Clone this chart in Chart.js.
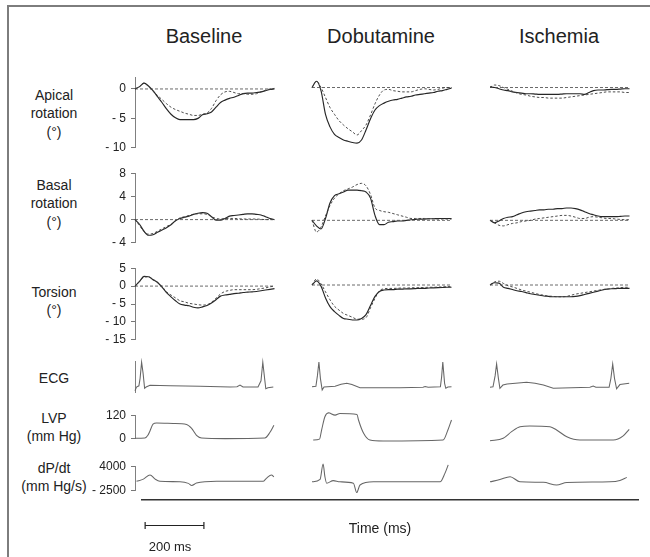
<!DOCTYPE html>
<html>
<head>
<meta charset="utf-8">
<script src="https://cdn.jsdelivr.net/npm/chart.js@4"></script>
<style>
  body { margin: 0; width: 650px; height: 557px; overflow: hidden; background: #fff; position: relative;
         font-family: "Liberation Sans", Arial, sans-serif; color: #222; }
  #frame { position: absolute; left: 7px; top: 5px; width: 700px; height: 600px; border: 2px solid #7d7d7d; }
  .txt { position: absolute; white-space: nowrap; }
  .title { font-size: 20px; width: 180px; text-align: center; }
  .rowlab { font-size: 14px; left: 0; width: 108px; text-align: center; line-height: 18.5px; }
  canvas { position: absolute; }
</style>
</head>
<body>
<div id="frame"></div>
<script>
// column and row names
const columns = ['Baseline', 'Dobutamine', 'Ischemia'];
const rowLabels = [['Apical', 'rotation', '(°)'], ['Basal', 'rotation', '(°)'], ['Torsion', '(°)'],
                   ['ECG'], ['LVP', '(mm Hg)'], ['dP/dt', '(mm Hg/s)']];

// tick labels of the left axes
const apicalTicks = [0, -5, -10];
const basalTicks = [8, 4, 0, -4];
const torsionTicks = [5, 0, -5, -10, -15];
const lvpTicks = [120, 0];
const dpdtTicks = [4000, -2500];
const scaleBarMs = 200;

// time (ms) of the rotation samples
const timeRot = [0, 15, 30, 45, 60, 75, 90, 105, 120, 135, 150, 165, 180, 195, 210, 225,
                 240, 255, 270, 285, 300, 315, 330, 345, 360, 375, 390, 405, 420, 435, 450, 465];

// apical rotation (deg), solid and dashed traces
const apicalBaseSolid = [0, 0.4, 1.0, 0.5, -0.3, -1.3, -2.3, -3.4, -4.3, -4.9, -5.2, -5.2, -5.2, -5.2, -5.0, -4.4,
                         -4.2, -3.9, -3.1, -2.3, -1.9, -1.6, -1.4, -1.1, -0.8, -0.7, -0.7, -0.6, -0.5, -0.3, -0.1, 0];
const apicalBaseDashed = [0, 0.4, 1.0, 0.4, -0.4, -1.1, -1.8, -2.5, -3.1, -3.5, -3.8, -4.1, -4.3, -4.5, -4.5, -4.3,
                          -4.1, -3.3, -2.0, -1.0, -0.5, -0.4, -0.6, -0.8, -0.8, -0.9, -0.9, -0.8, -0.5, -0.2, 0, 0.1];
const apicalDobSolid = [0, 1.0, -0.5, -4.3, -6.3, -7.5, -8.0, -8.4, -8.6, -8.8, -8.9, -8.4, -6.8, -5.0, -3.6, -2.9,
                        -2.5, -2.2, -2.0, -1.9, -1.7, -1.5, -1.4, -1.2, -1.1, -1.0, -0.9, -0.8, -0.6, -0.5, -0.3, -0.1];
const apicalDobDashed = [0, 1.0, 0, -1.6, -3.2, -4.3, -5.3, -6.0, -6.6, -7.1, -7.6, -6.9, -6.0, -4.4, -2.6, -1.2,
                         -0.4, -0.3, -0.5, -0.6, -0.7, -0.7, -0.7, -0.5, -0.3, -0.2, -0.3, -0.4, -0.3, -0.1, 0, 0];
const apicalIschSolid = [0.1, 0, -0.2, -0.4, -0.5, -0.7, -0.8, -0.9, -1.0, -1.0, -1.05, -1.1, -1.1, -1.1, -1.1, -1.1,
                         -1.05, -1.0, -1.0, -1.0, -1.0, -1.1, -0.8, -0.5, -0.4, -0.4, -0.35, -0.3, -0.3, -0.25, -0.2, -0.2];
const apicalIschDashed = [0, 0.4, 0.3, 0, -0.3, -0.6, -0.9, -1.1, -1.2, -1.4, -1.5, -1.6, -1.6, -1.7, -1.7, -1.7,
                          -1.7, -1.6, -1.5, -1.4, -1.3, -1.2, -1.1, -1.0, -0.9, -0.8, -0.7, -0.7, -0.7, -0.7, -0.8, -0.8];

// basal rotation (deg)
const basalBaseSolid = [0, -0.8, -2.0, -2.7, -2.6, -2.2, -1.8, -1.4, -0.9, -0.2, 0.2, 0.4, 0.6, 0.9, 1.1, 1.2,
                        1.1, 0.5, -0.1, -0.1, 0.2, 0.6, 0.7, 0.8, 0.9, 1.0, 1.0, 0.9, 0.8, 0.5, 0.2, 0];
const basalBaseDashed = [0, -1.0, -2.1, -2.5, -2.4, -2.0, -1.6, -1.2, -0.8, -0.2, 0.3, 0.5, 0.7, 0.9, 1.0, 1.0,
                         0.9, 0.5, 0.2, 0.1, 0.2, 0.2, 0.2, 0.15, 0.1, 0.1, 0.1, 0.1, 0.05, 0, 0, 0];
const basalDobSolid = [0, -0.9, -1.4, 0.3, 2.8, 4.0, 4.3, 4.6, 4.9, 4.9, 4.9, 4.8, 4.6, 3.6, 0.8, -0.7,
                       -0.7, -0.3, -0.2, -0.1, -0.1, 0, 0.1, 0.15, 0.2, 0.2, 0.25, 0.25, 0.3, 0.3, 0.3, 0.3];
const basalDobDashed = [0, -1.9, -1.1, 0.7, 2.4, 3.6, 4.3, 4.8, 5.1, 5.4, 5.8, 6.0, 5.6, 4.2, 2.0, 1.6,
                        1.4, 1.3, 1.1, 0.9, 0.7, 0.5, 0.3, 0.3, 0.3, 0.3, 0.25, 0.25, 0.2, 0.2, 0.2, 0.2];
const basalIschSolid = [0, -0.4, -0.1, 0.3, 0.5, 0.6, 0.9, 1.2, 1.4, 1.5, 1.6, 1.7, 1.7, 1.8, 1.8, 1.9,
                        1.9, 2.0, 2.0, 1.9, 1.7, 1.4, 1.1, 0.9, 0.7, 0.6, 0.6, 0.6, 0.6, 0.65, 0.7, 0.7];
const basalIschDashed = [0, -0.4, -0.8, -0.9, -0.7, -0.5, -0.4, -0.2, -0.1, 0, 0.2, 0.3, 0.4, 0.5, 0.6, 0.7,
                         0.8, 0.8, 0.7, 0.5, 0.3, 0.3, 0.5, 0.6, 0.5, 0.4, 0.3, 0.3, 0.2, 0.15, 0.1, 0.1];

// torsion (deg)
const torsionBaseSolid = [0, 1.3, 2.7, 2.6, 1.8, 1.0, -0.3, -1.8, -3.0, -4.1, -5.0, -5.3, -5.5, -5.9, -6.1, -5.8,
                          -5.4, -4.7, -3.8, -2.8, -2.5, -2.3, -2.1, -2.0, -1.8, -1.7, -1.6, -1.5, -1.3, -1.1, -0.9, -0.7];
const torsionBaseDashed = [0, 1.2, 2.5, 2.6, 1.9, 1.1, -0.1, -1.6, -2.5, -3.3, -4.1, -4.4, -4.8, -5.0, -5.2, -5.3,
                           -5.2, -4.5, -3.4, -2.2, -1.5, -1.2, -1.0, -1.0, -1.0, -1.0, -1.0, -0.9, -0.7, -0.5, -0.2, 0];
const torsionDobSolid = [0, 1.1, -0.3, -3.4, -5.7, -7.0, -8.0, -8.8, -9.0, -9.2, -9.2, -8.8, -7.8, -5.4, -3.0, -1.7,
                         -1.3, -1.2, -1.2, -1.1, -1.1, -1.0, -1.0, -0.95, -0.9, -0.9, -0.8, -0.75, -0.7, -0.65, -0.6, -0.6];
const torsionDobDashed = [0, 1.6, 0.3, -1.8, -3.9, -5.6, -6.6, -7.5, -8.0, -8.5, -9.0, -9.0, -8.6, -6.0, -3.5, -1.5,
                          -1.0, -0.9, -0.9, -0.85, -0.8, -0.8, -0.75, -0.7, -0.7, -0.65, -0.6, -0.6, -0.55, -0.5, -0.45, -0.4];
const torsionIschSolid = [0, 0.6, 0.5, -0.6, -0.9, -1.2, -1.5, -1.7, -2.0, -2.3, -2.5, -2.7, -2.9, -3.0, -3.1, -3.1,
                          -3.1, -3.1, -3.1, -3.0, -2.8, -2.5, -2.2, -1.9, -1.6, -1.3, -1.1, -1.0, -0.95, -0.9, -0.9, -0.9];
const torsionIschDashed = [0, 0.8, 1.0, 0.4, -0.2, -0.5, -0.9, -1.3, -1.6, -1.9, -2.2, -2.5, -2.7, -2.9, -3.0, -3.1,
                           -3.1, -3.0, -2.7, -2.4, -2.2, -2.0, -1.8, -1.6, -1.4, -1.2, -1.1, -0.9, -0.8, -0.7, -0.6, -0.6];

// ECG (mV): sample times (ms) and values
const ecgBaseT = [0, 5, 13, 17, 22, 27, 32, 37, 50, 117, 217, 317, 340, 350, 360, 410, 420, 426, 432, 436, 443, 461];
const ecgBaseV = [-0.2, -0.05, 0, 0.3, 0.95, 0.5, -0.1, -0.05, 0.02, 0, -0.02, -0.05, -0.04, 0.03, -0.05, -0.05, 0.2, 0.95, 0.3, -0.12, -0.08, -0.05];
const ecgDobT = [0, 13, 18, 23, 28, 34, 40, 77, 97, 116, 133, 160, 293, 370, 377, 387, 428, 432, 436, 442, 446, 453, 465];
const ecgDobV = [-0.04, -0.02, 0.4, 0.96, 0.3, -0.17, -0.05, -0.02, 0.06, 0.1, 0.05, -0.08, -0.08, -0.06, -0.03, -0.06, -0.04, 0.35, 0.96, 0.1, -0.1, -0.05, -0.04];
const ecgIschT = [0, 10, 17, 22, 28, 33, 43, 57, 122, 150, 178, 211, 333, 344, 353, 397, 403, 409, 415, 422, 433, 464];
const ecgIschV = [-0.06, -0.04, 0.4, 0.88, 0.3, -0.1, 0.03, 0.07, 0.14, 0.1, 0.03, -0.1, -0.06, -0.01, -0.06, -0.06, 0.3, 0.88, 0.3, -0.12, 0.05, 0.1];

// LV pressure (mm Hg)
const lvpBaseT = [0, 33, 43, 50, 60, 72, 127, 172, 188, 205, 222, 300, 433, 450, 463];
const lvpBaseV = [3, 4, 18, 40, 74, 80, 78, 73, 54, 18, 4, 1, 4, 33, 69];
const lvpDobT = [4, 25, 32, 43, 55, 77, 93, 150, 155, 172, 193, 237, 437, 453, 465];
const lvpDobV = [4, 8, 47, 104, 121, 111, 118, 114, 90, 33, 4, 0, 4, 47, 90];
const lvpIschT = [0, 44, 72, 100, 133, 200, 222, 256, 300, 411, 444, 464];
const lvpIschV = [1, 12, 40, 61, 64, 61, 47, 18, 4, 4, 22, 50];

// dP/dt (mm Hg/s)
const dpdtBaseT = [5, 28, 50, 67, 83, 150, 178, 189, 205, 272, 427, 438, 455, 463];
const dpdtBaseV = [0, 580, 1700, 580, 0, -100, -540, -1100, -470, 0, 0, 800, 1700, 1200];
const dpdtDobT = [0, 27, 37, 43, 49, 71, 93, 138, 149, 160, 205, 427, 443, 454];
const dpdtDobV = [0, 580, 4000, 1160, -300, 270, 0, -300, -2400, -700, 0, 0, 1900, 3800];
const dpdtIschT = [0, 33, 67, 100, 178, 222, 256, 400, 433, 456];
const dpdtIschV = [0, 500, 1160, 0, -100, -700, -150, 0, 300, 1000];

Chart.defaults.font.family = '"Liberation Sans", Arial, sans-serif';

// layout
const colLeft = [135, 312, 490];
const plotW = 140;
const msPerPx = 200 / 60;
const xMax = plotW * msPerPx;
const axisW = 75;
const padV = 10, padH = 4;

const rows = [
  { top: 75, bottom: 150, min: -10, max: 2, ticks: apicalTicks, zero: true, kind: 'rot',
    sets: [[apicalBaseSolid, apicalBaseDashed], [apicalDobSolid, apicalDobDashed], [apicalIschSolid, apicalIschDashed]] },
  { top: 171, bottom: 245, min: -4, max: 8, ticks: basalTicks, zero: true, kind: 'rot',
    sets: [[basalBaseSolid, basalBaseDashed], [basalDobSolid, basalDobDashed], [basalIschSolid, basalIschDashed]] },
  { top: 266, bottom: 342, min: -15, max: 5, ticks: torsionTicks, zero: true, kind: 'rot',
    sets: [[torsionBaseSolid, torsionBaseDashed], [torsionDobSolid, torsionDobDashed], [torsionIschSolid, torsionIschDashed]] },
  { top: 361, bottom: 392, min: -0.25, max: 1, ticks: null, kind: 'sig', tension: 0,
    sets: [[ecgBaseT, ecgBaseV], [ecgDobT, ecgDobV], [ecgIschT, ecgIschV]] },
  { top: 413, bottom: 441, min: 0, max: 120, ticks: lvpTicks, kind: 'sig',
    sets: [[lvpBaseT, lvpBaseV], [lvpDobT, lvpDobV], [lvpIschT, lvpIschV]] },
  { top: 464, bottom: 493, min: -2500, max: 4000, ticks: dpdtTicks, kind: 'sig',
    sets: [[dpdtBaseT, dpdtBaseV], [dpdtDobT, dpdtDobV], [dpdtIschT, dpdtIschV]] }
];
const labelTops = [85.7, 175.7, 282.7, 368.7, 408.7, 458.7];

const xy = (ts, vs) => ts.map((t, i) => ({ x: t, y: vs[i] }));
const fmt = v => v < 0 ? '- ' + (-v) : String(v);

function addText(cls, text, left, top) {
  const d = document.createElement('div');
  d.className = 'txt ' + cls;
  d.innerHTML = text;
  d.style.left = left + 'px';
  d.style.top = top + 'px';
  document.body.appendChild(d);
  return d;
}

columns.forEach((name, c) => addText('title', name, colLeft[c] + plotW / 2 - 91, 25));
rowLabels.forEach((lines, r) => addText('rowlab', lines.join('<br>'), 0, labelTops[r]));

function buildDatasets(row, col) {
  const ds = [];
  if (row.zero) {
    ds.push({ data: [{ x: 0, y: 0 }, { x: xMax, y: 0 }], borderColor: '#444', borderWidth: 0.8, borderDash: [3, 2] });
  }
  if (row.kind === 'rot') {
    const [solid, dashed] = row.sets[col];
    ds.push({ data: xy(timeRot, dashed), borderColor: '#3a3a3a', borderWidth: 0.9, borderDash: [2.5, 2], cubicInterpolationMode: 'monotone' });
    ds.push({ data: xy(timeRot, solid), borderColor: '#262626', borderWidth: 1.15, cubicInterpolationMode: 'monotone' });
  } else {
    const [ts, vs] = row.sets[col];
    const d = { data: xy(ts, vs), borderColor: '#666', borderWidth: 1.05 };
    if (row.tension === 0) d.tension = 0; else d.cubicInterpolationMode = 'monotone';
    ds.push(d);
  }
  ds.forEach(d => { d.pointRadius = 0; d.clip = false; d.fill = false; });
  return ds;
}

function yScale(row, col) {
  if (col > 0) return { display: false, min: row.min, max: row.max };
  const hasTicks = !!row.ticks;
  return {
    min: row.min, max: row.max,
    afterBuildTicks: s => { if (hasTicks) s.ticks = row.ticks.map(v => ({ value: v })); },
    afterFit: s => { s.width = axisW; },
    ticks: { display: hasTicks, callback: fmt, color: '#222', padding: 5, autoSkip: false, font: { size: 12 } },
    grid: { display: hasTicks, drawOnChartArea: false, tickLength: 4, tickColor: '#777', tickWidth: 1 },
    border: { display: true, color: '#808080', width: 1 }
  };
}

rows.forEach(row => {
  columns.forEach((_, col) => {
    const cv = document.createElement('canvas');
    const left = col === 0 ? colLeft[0] - axisW : colLeft[col] - padH;
    const w = (col === 0 ? axisW : padH) + plotW + padH;
    const h = row.bottom - row.top + 2 * padV;
    cv.width = w; cv.height = h;
    cv.style.left = left + 'px';
    cv.style.top = (row.top - padV) + 'px';
    document.body.appendChild(cv);
    new Chart(cv, {
      type: 'line',
      data: { datasets: buildDatasets(row, col) },
      options: {
        responsive: false, animation: false, events: [],
        layout: { padding: { top: padV, bottom: padV, left: col === 0 ? 0 : padH, right: padH } },
        plugins: { legend: { display: false }, tooltip: { enabled: false } },
        scales: {
          x: { type: 'linear', display: false, min: 0, max: xMax },
          y: yScale(row, col)
        }
      }
    });
  });
});

// time axis with the scale bar
const timeCv = document.createElement('canvas');
const timeLeft = 137, timeW = 507;
timeCv.width = timeW; timeCv.height = 61;
timeCv.style.left = timeLeft + 'px';
timeCv.style.top = '495px';
document.body.appendChild(timeCv);
const barStart = -(140 - timeLeft) * msPerPx;
new Chart(timeCv, {
  type: 'line',
  data: {
    datasets: [{
      data: [{ x: 0, y: 0 }, { x: scaleBarMs, y: 0 }],
      borderColor: '#222', borderWidth: 1.2,
      pointStyle: 'line', pointRadius: 3.5, pointRotation: 90,
      pointBorderColor: '#222', pointBorderWidth: 1.2, clip: false
    }]
  },
  options: {
    responsive: false, animation: false, events: [],
    layout: { padding: { top: 5, bottom: 0, left: 0, right: 0 } },
    plugins: { legend: { display: false }, tooltip: { enabled: false } },
    scales: {
      x: { type: 'linear', position: 'top', min: barStart, max: barStart + timeW * msPerPx,
           afterFit: s => { s.height = 0; },
           ticks: { display: false }, grid: { display: false },
           border: { display: true, color: '#333', width: 1.6 } },
      y: { display: false, min: -1, max: 1 }
    }
  }
});

const barLab = addText('', scaleBarMs + ' ms', 140, 539);
barLab.style.fontSize = '13px';
barLab.style.width = '60px';
barLab.style.textAlign = 'center';
const timeLab = addText('', 'Time (ms)', 330, 520);
timeLab.style.fontSize = '14px';
timeLab.style.width = '100px';
timeLab.style.textAlign = 'center';
</script>
</body>
</html>
